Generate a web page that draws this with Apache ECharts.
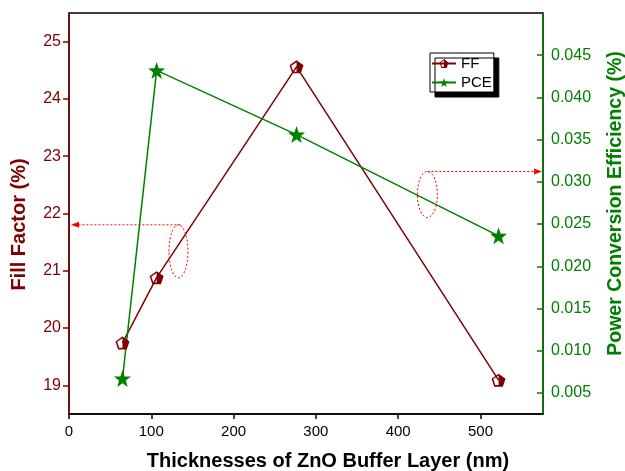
<!DOCTYPE html>
<html>
<head>
<meta charset="utf-8">
<script src="https://cdn.jsdelivr.net/npm/echarts@6/dist/echarts.min.js"></script>
<style>
  html, body { margin: 0; padding: 0; background: #fff; }
  #main { width: 625px; height: 471px; }
</style>
</head>
<body>
<div id="main"></div>
<script>
// values
const thickness = [65, 106.5, 276.5, 522];
const fillFactor = [19.74, 20.88, 24.56, 19.09];
const pce = [0.0067, 0.0432, 0.0356, 0.0236];

const xTicks = [0, 100, 200, 300, 400, 500];
const ffTicks = [19, 20, 21, 22, 23, 24, 25];
const pceTicks = [0.005, 0.010, 0.015, 0.020, 0.025, 0.030, 0.035, 0.040, 0.045];

// where the dotted "this curve -> that axis" notes sit, in data units
const ffNote = [133, 21.34];
const pceNote = [435.5, 0.0285];

const RED = '#800000';
const GREEN = '#008000';
const FONT = 'Liberation Sans, Arial, sans-serif';

// pentagon, left half hollow
const pentagon = 'path://M50 0 L97.6 34.5 L79.4 90.5 L20.6 90.5 L2.4 34.5 Z M50 13 L14 37 L28 79 L50 79 Z';
const star = 'path://M50 0 L61.76 33.82 L97.55 34.55 L69.02 56.18 L79.39 90.45 L50 70 L20.61 90.45 L30.98 56.18 L2.45 34.55 L38.24 33.82 Z';

const chart = echarts.init(document.getElementById('main'));

const option = {
  animation: false,
  textStyle: { fontFamily: FONT },
  grid: {
    left: 69, right: 82, top: 13, bottom: 57,
    outerBoundsMode: 'none',
    containLabel: false,
    show: true, borderColor: '#000', borderWidth: 1.5
  },
  legend: {
    left: 430, top: 53,
    orient: 'vertical',
    itemWidth: 24, itemHeight: 11, itemGap: 4,
    padding: [3, 2, 2, 1],
    backgroundColor: '#fff',
    borderColor: '#000', borderWidth: 1,
    shadowColor: '#000', shadowBlur: 0, shadowOffsetX: 5, shadowOffsetY: 5,
    textStyle: { fontSize: 15, color: '#000', fontFamily: FONT },
    data: ['FF', 'PCE']
  },
  xAxis: {
    type: 'value',
    min: 0, max: 576,
    name: 'Thicknesses of ZnO Buffer Layer (nm)',
    nameLocation: 'middle', nameGap: 37,
    nameTextStyle: { fontSize: 20, fontWeight: 'bold', color: '#000', fontFamily: FONT, padding: [0, 0, 0, 44] },
    axisLine: { lineStyle: { color: '#000', width: 1.5 } },
    axisTick: { customValues: xTicks, length: 5, lineStyle: { color: '#000', width: 1.5 } },
    axisLabel: { customValues: xTicks, fontSize: 15, color: '#000', margin: 10 },
    splitLine: { show: false }
  },
  yAxis: [
    {
      type: 'value',
      position: 'left',
      min: 18.5, max: 25.5,
      name: 'Fill Factor (%)',
      nameLocation: 'middle', nameGap: 40,
      nameTextStyle: { fontSize: 20, fontWeight: 'bold', color: RED, fontFamily: FONT, padding: [0, 22, 0, 0] },
      axisLine: { show: true, lineStyle: { color: RED, width: 1.5 } },
      axisTick: { show: true, customValues: ffTicks, length: 6, lineStyle: { color: RED, width: 1.5 } },
      axisLabel: { customValues: ffTicks, fontSize: 16, color: RED, margin: 8 },
      splitLine: { show: false }
    },
    {
      type: 'value',
      position: 'right',
      min: 0.0025, max: 0.05,
      name: 'Power Conversion Efficiency (%)',
      nameLocation: 'middle', nameGap: 63,
      nameTextStyle: { fontSize: 19.5, fontWeight: 'bold', color: GREEN, fontFamily: FONT, padding: [0, 0, 0, 20] },
      axisLine: { show: true, lineStyle: { color: GREEN, width: 1.5 } },
      axisTick: { show: true, inside: true, customValues: pceTicks, length: 6, lineStyle: { color: GREEN, width: 1.5 } },
      axisLabel: { customValues: pceTicks, fontSize: 16, color: GREEN, margin: 8, formatter: v => v.toFixed(3) },
      splitLine: { show: false }
    }
  ],
  series: [
    {
      name: 'FF',
      type: 'line',
      yAxisIndex: 0,
      data: thickness.map((x, i) => [x, fillFactor[i]]),
      symbol: pentagon,
      symbolSize: [14, 13],
      lineStyle: { color: RED, width: 1.5 },
      itemStyle: { color: RED }
    },
    {
      name: 'PCE',
      type: 'line',
      yAxisIndex: 1,
      data: thickness.map((x, i) => [x, pce[i]]),
      symbol: star,
      symbolSize: 17,
      lineStyle: { color: GREEN, width: 1.5 },
      itemStyle: { color: GREEN }
    }
  ]
};

chart.setOption(option);

// dotted ellipse around a curve + dotted arrow to its axis
function note(anchor, yAxisIndex, rx, ry, toRight) {
  const c = chart.convertToPixel({ xAxisIndex: 0, yAxisIndex: yAxisIndex }, anchor);
  const axisX = chart.convertToPixel({ xAxisIndex: 0 }, toRight ? 576 : 0);
  const top = c[1] - ry;
  const dotted = { stroke: '#ff0000', lineWidth: 1, lineDash: [2, 2], fill: null };
  const tip = toRight ? axisX - 1 : axisX + 2;
  const base = toRight ? tip - 8 : tip + 8;
  return [
    { type: 'ellipse', shape: { cx: c[0], cy: c[1], rx: rx, ry: ry }, style: dotted, z: 10 },
    { type: 'line', shape: { x1: c[0] + (toRight ? 0 : 2), y1: top, x2: base, y2: top }, style: dotted, z: 10 },
    { type: 'polygon', shape: { points: [[tip, top], [base, top - 3], [base, top + 3]] }, style: { fill: '#ff0000' }, z: 10 }
  ];
}

chart.setOption({
  graphic: note(ffNote, 0, 9.5, 26.5, false).concat(note(pceNote, 1, 10, 23, true))
});
</script>
</body>
</html>
